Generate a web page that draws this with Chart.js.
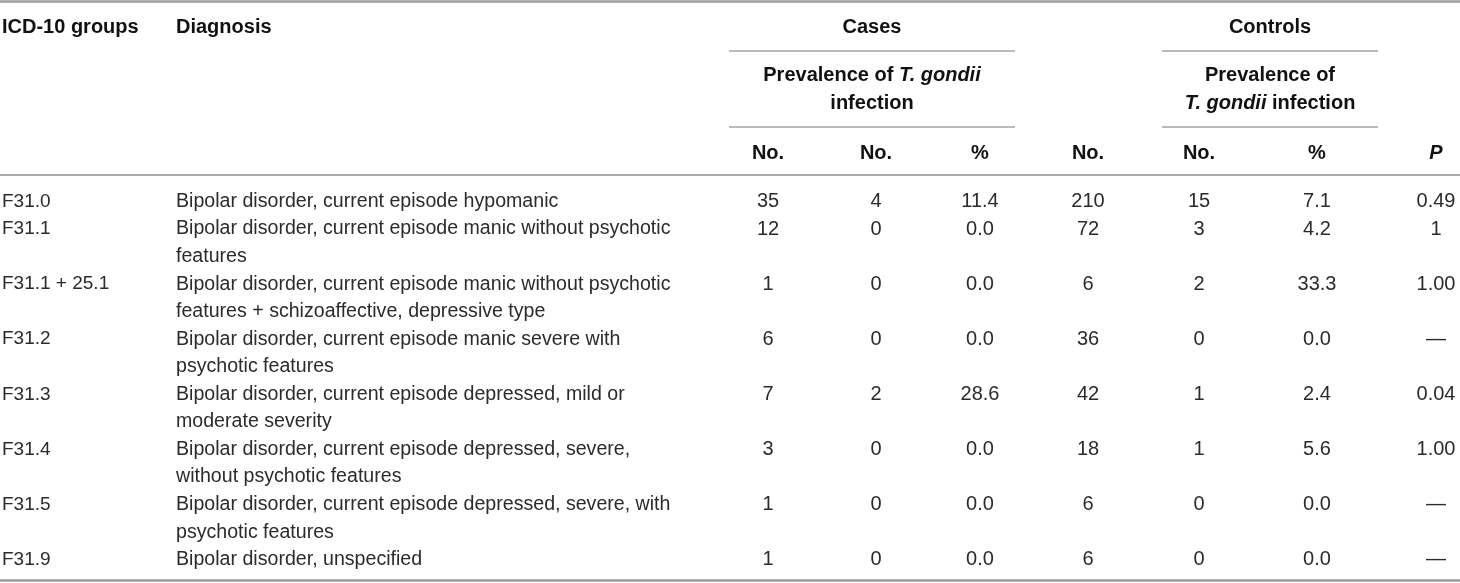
<!DOCTYPE html>
<html>
<head>
<meta charset="utf-8">
<script src="https://cdn.jsdelivr.net/npm/chart.js@4.4.1/dist/chart.umd.min.js"></script>
<style>
  html, body { margin: 0; padding: 0; background: #fff; }
  #wrap { width: 1460px; height: 583px; }
</style>
</head>
<body>
<div id="wrap"><canvas id="table" width="1460" height="583"></canvas></div>
<script>
// Table content
const codes = ["F31.0", "F31.1", "F31.1 + 25.1", "F31.2", "F31.3", "F31.4", "F31.5", "F31.9"];
const diagnoses = [
  ["Bipolar disorder, current episode hypomanic"],
  ["Bipolar disorder, current episode manic without psychotic", "features"],
  ["Bipolar disorder, current episode manic without psychotic", "features + schizoaffective, depressive type"],
  ["Bipolar disorder, current episode manic severe with", "psychotic features"],
  ["Bipolar disorder, current episode depressed, mild or", "moderate severity"],
  ["Bipolar disorder, current episode depressed, severe,", "without psychotic features"],
  ["Bipolar disorder, current episode depressed, severe, with", "psychotic features"],
  ["Bipolar disorder, unspecified"]
];
const casesNo = [35, 12, 1, 6, 7, 3, 1, 1];
const casesPositive = [4, 0, 0, 0, 2, 0, 0, 0];
const casesPct = [11.4, 0.0, 0.0, 0.0, 28.6, 0.0, 0.0, 0.0];
const controlsNo = [210, 72, 6, 36, 42, 18, 6, 6];
const controlsPositive = [15, 3, 2, 0, 1, 1, 0, 0];
const controlsPct = [7.1, 4.2, 33.3, 0.0, 2.4, 5.6, 0.0, 0.0];
const pValues = ["0.49", "1", "1.00", null, "0.04", "1.00", null, null];
const subHeaders = ["No.", "No.", "%", "No.", "No.", "%", "P"];

// Layout (pixel units of the hidden scales)
const W = 1460, H = 583;
const codeX = 2, diagX = 176;
const colX = [768, 876, 980, 1088, 1199, 1317, 1436];
const firstLineY = 201.5, linePitch = 27.55;
const FONT = '"Liberation Sans", Arial, Helvetica, sans-serif';
const BODY = "#2b2b2b", HEAD = "#111";

// line index where each row starts
const rowStart = [];
let acc = 0;
diagnoses.forEach((d) => { rowStart.push(acc); acc += d.length; });
const rowY = (i) => firstLineY + rowStart[i] * linePitch;

const fmtPct = (v) => v.toFixed(1);
const columns = [
  { values: casesNo, fmt: String },
  { values: casesPositive, fmt: String },
  { values: casesPct, fmt: fmtPct },
  { values: controlsNo, fmt: String },
  { values: controlsPositive, fmt: String },
  { values: controlsPct, fmt: fmtPct },
  { values: pValues, fmt: (v) => (v === null ? "\u2014" : v) }
];

const datasets = [];
datasets.push({ kind: "code", data: codes.map((c, i) => ({ x: codeX, y: rowY(i) })) });
const diagLines = [];
diagnoses.forEach((d, i) => d.forEach((t, k) => diagLines.push({ text: t, x: diagX, y: rowY(i) + k * linePitch })));
datasets.push({ kind: "diag", data: diagLines.map((l) => ({ x: l.x, y: l.y })) });
columns.forEach((col, c) => {
  datasets.push({ kind: "num", col: c, data: col.values.map((v, i) => ({ x: colX[c], y: rowY(i) })) });
});
datasets.forEach((ds) => { ds.pointRadius = 0; ds.pointHoverRadius = 0; ds.showLine = false; });

function drawRuns(ctx, runs, cx, cy, size, weight) {
  let total = 0;
  runs.forEach((r) => {
    ctx.font = (r.i ? "italic " : "") + weight + " " + size + "px " + FONT;
    r.w = ctx.measureText(r.t).width;
    total += r.w;
  });
  let x = cx - total / 2;
  ctx.textAlign = "left";
  runs.forEach((r) => {
    ctx.font = (r.i ? "italic " : "") + weight + " " + size + "px " + FONT;
    ctx.fillText(r.t, x, cy);
    x += r.w;
  });
}

const tablePlugin = {
  id: "tableText",
  beforeDatasetsDraw(chart) {
    const { ctx, scales: { x, y } } = chart;
    const rule = (x1, x2, yv, lw, color) => {
      ctx.beginPath();
      ctx.strokeStyle = color;
      ctx.lineWidth = lw;
      ctx.moveTo(x.getPixelForValue(x1), y.getPixelForValue(yv));
      ctx.lineTo(x.getPixelForValue(x2), y.getPixelForValue(yv));
      ctx.stroke();
    };
    ctx.save();
    rule(0, W, 1.5, 2.5, "#9c9c9c");
    rule(0, W, 175, 2, "#ababab");
    rule(0, W, 580.5, 2.5, "#9c9c9c");
    rule(729, 1015, 51, 1.5, "#a3a3a3");
    rule(729, 1015, 127, 1.5, "#a3a3a3");
    rule(1162, 1378, 51, 1.5, "#a3a3a3");
    rule(1162, 1378, 127, 1.5, "#a3a3a3");

    // headers
    ctx.fillStyle = HEAD;
    ctx.textBaseline = "middle";
    ctx.font = "bold 20px " + FONT;
    ctx.textAlign = "left";
    ctx.fillText("ICD-10 groups", x.getPixelForValue(codeX), y.getPixelForValue(27));
    ctx.fillText("Diagnosis", x.getPixelForValue(diagX), y.getPixelForValue(27));
    const casesC = x.getPixelForValue((729 + 1015) / 2);
    const ctrlC = x.getPixelForValue((1162 + 1378) / 2);
    drawRuns(ctx, [{ t: "Cases" }], casesC, y.getPixelForValue(27), 20, "bold");
    drawRuns(ctx, [{ t: "Controls" }], ctrlC, y.getPixelForValue(27), 20, "bold");
    drawRuns(ctx, [{ t: "Prevalence of " }, { t: "T. gondii", i: true }], casesC, y.getPixelForValue(75), 20, "bold");
    drawRuns(ctx, [{ t: "infection" }], casesC, y.getPixelForValue(103), 20, "bold");
    drawRuns(ctx, [{ t: "Prevalence of" }], ctrlC, y.getPixelForValue(75), 20, "bold");
    drawRuns(ctx, [{ t: "T. gondii", i: true }, { t: " infection" }], ctrlC, y.getPixelForValue(103), 20, "bold");
    subHeaders.forEach((h, c) => {
      drawRuns(ctx, [{ t: h, i: h === "P" }], x.getPixelForValue(colX[c]), y.getPixelForValue(153), 20, "bold");
    });
    ctx.restore();
  },
  afterDatasetsDraw(chart) {
    const { ctx } = chart;
    ctx.save();
    ctx.fillStyle = BODY;
    ctx.textBaseline = "middle";
    chart.data.datasets.forEach((ds, di) => {
      const meta = chart.getDatasetMeta(di);
      meta.data.forEach((pt, i) => {
        if (ds.kind === "code") {
          ctx.font = "19px " + FONT;
          ctx.textAlign = "left";
          ctx.fillText(codes[i], pt.x, pt.y);
        } else if (ds.kind === "diag") {
          ctx.font = "19.6px " + FONT;
          ctx.textAlign = "left";
          ctx.fillText(diagLines[i].text, pt.x, pt.y);
        } else {
          const col = columns[ds.col];
          ctx.font = "20px " + FONT;
          ctx.textAlign = "center";
          ctx.fillText(col.fmt(col.values[i]), pt.x, pt.y);
        }
      });
    });
    ctx.restore();
  }
};

new Chart(document.getElementById("table"), {
  type: "scatter",
  data: { datasets: datasets },
  options: {
    responsive: false,
    animation: false,
    events: [],
    layout: { padding: 0 },
    scales: {
      x: { type: "linear", min: 0, max: W, display: false },
      y: { type: "linear", min: 0, max: H, reverse: true, display: false }
    },
    plugins: {
      legend: { display: false },
      tooltip: { enabled: false }
    }
  },
  plugins: [tablePlugin]
});
</script>
</body>
</html>
